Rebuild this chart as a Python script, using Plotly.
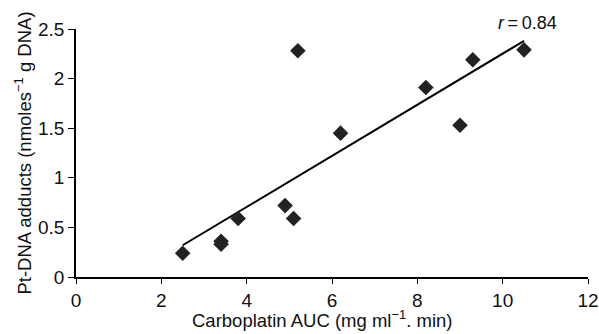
import plotly.graph_objects as go

auc = [2.5, 3.4, 3.4, 3.8, 4.9, 5.1, 5.2, 6.2, 8.2, 9.0, 9.3, 10.5]
adducts = [0.24, 0.36, 0.33, 0.59, 0.72, 0.59, 2.28, 1.45, 1.91, 1.53, 2.19, 2.29]
fit_x = [2.5, 10.5]
fit_y = [0.32, 2.38]
x_ticks = [0, 2, 4, 6, 8, 10, 12]
y_ticks = [0, 0.5, 1, 1.5, 2, 2.5]
y_tick_labels = ["0", "0.5", "1", "1.5", "2", "2.5"]
x_title = "Carboplatin AUC (mg ml<sup>−1</sup>. min)"
y_title = "Pt-DNA adducts (nmoles<sup>−1</sup> g DNA)"

font = "Liberation Sans, Arial, sans-serif"

fig = go.Figure()
fig.add_trace(go.Scatter(x=fit_x, y=fit_y, mode="lines",
                         line=dict(color="#000000", width=2), showlegend=False))
fig.add_trace(go.Scatter(x=auc, y=adducts, mode="markers",
                         marker=dict(symbol="diamond", size=12, color="#222222"),
                         showlegend=False))

fig.add_annotation(x=10.5, y=2.5, xref="x", yref="y", yshift=6, xshift=3,
                   text="<i>r</i>\u2009=\u20090.84", showarrow=False,
                   font=dict(family=font, size=18, color="#111111"))

fig.add_annotation(x=0.5, y=0, xref="paper", yref="paper", yanchor="middle",
                   yshift=-42, xshift=-10, text=x_title, showarrow=False,
                   font=dict(family=font, size=18.5, color="#111111"))

fig.update_layout(
    width=599, height=334,
    margin=dict(l=76, r=11, t=29, b=57),
    paper_bgcolor="white", plot_bgcolor="white",
    font=dict(family=font, size=18, color="#111111"),
    xaxis=dict(range=[0, 12], tickvals=x_ticks, showline=True, linecolor="#000000",
               linewidth=1.5, ticks="outside", ticklen=5, tickcolor="#000000",
               showgrid=False, zeroline=False, automargin=False,
               tickfont=dict(size=19)),
    yaxis=dict(range=[0, 2.5], tickvals=y_ticks, ticktext=y_tick_labels, showline=True,
               linecolor="#000000", linewidth=1.5, ticks="outside", ticklen=6,
               tickcolor="#000000", showgrid=False, zeroline=False, automargin=False,
               tickfont=dict(size=19),
               title=dict(text=y_title, standoff=2, font=dict(size=18.5))),
)

fig.write_html("out.html", config={"displayModeBar": False},
               post_script="document.body.style.margin='0';document.body.style.overflow='hidden';")
